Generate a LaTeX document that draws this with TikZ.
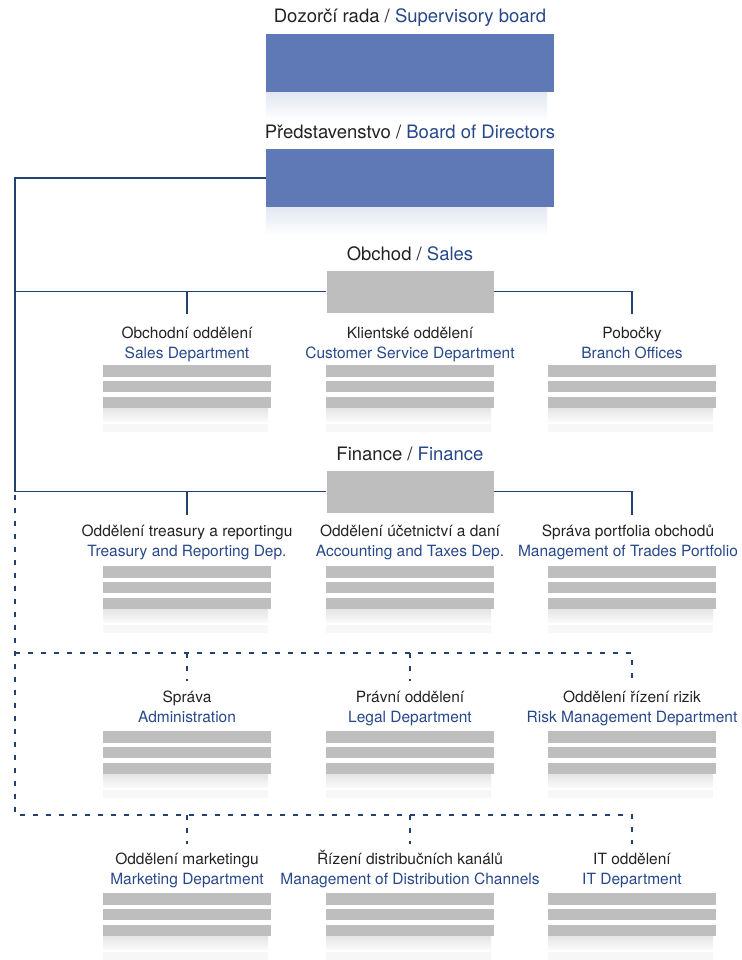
\documentclass[tikz,border=0pt]{standalone}
\usepackage{fontspec}
\setmainfont{TeX Gyre Heros}
\usetikzlibrary{positioning}

\definecolor{boardblue}{RGB}{95,121,182}
\definecolor{namesblue}{RGB}{38,72,138}
\definecolor{linkblue}{RGB}{36,66,112}
\definecolor{unitgray}{RGB}{190,190,190}
\definecolor{inkgray}{RGB}{34,34,34}

\begin{document}
\begin{tikzpicture}[x=1pt,y=-1pt,
   every node/.style={inner sep=0pt,text=inkgray},
   head/.style={font=\fontsize{18.5}{22}\selectfont},
   dept/.style={anchor=base,font=\fontsize{15.5}{19.5}\selectfont,align=center},
   board/.style={fill=boardblue,minimum width=288pt,minimum height=58pt},
   unit/.style={fill=unitgray,minimum width=167pt,minimum height=42pt},
   stripes/.style={anchor=north,minimum width=168pt,minimum height=68pt,
     path picture={
       \coordinate (nw) at (path picture bounding box.north west);
       \fill[unitgray] (nw) rectangle ++(168,12);
       \fill[unitgray] ([yshift=-16pt]nw) rectangle ++(168,11);
       \fill[unitgray] ([yshift=-32pt]nw) rectangle ++(168,11);
       \shade[top color=unitgray!40,bottom color=unitgray!8] ([yshift=-43pt]nw) rectangle ++(165,13);
       \fill[unitgray!12] ([yshift=-59pt]nw) rectangle ++(165,8);
     }},
   link/.style={draw=linkblue,line width=1.4pt},
   dlink/.style={link,dash pattern=on 5pt off 8pt}]
   \useasboundingbox (0,0) rectangle (741,960);

   % boards
   \node[head] (sbT) at (410,18) {Dozorčí rada / \textcolor{namesblue}{Supervisory board}};
   \node[board] (sb) at (410,63.5) {};
   \shade[top color=boardblue!18,bottom color=white] (sb.south west) rectangle ([xshift=-7pt,yshift=-28pt]sb.south east);
   \node[head] (bdT) at (410,132) {Představenstvo / \textcolor{namesblue}{Board of Directors}};
   \node[board] (bd) at (410,178) {};
   \shade[top color=boardblue!18,bottom color=white] (bd.south west) rectangle ([xshift=-7pt,yshift=-28pt]bd.south east);

   % divisions
   \node[head] (salesT) at (410,254) {Obchod / \textcolor{namesblue}{Sales}};
   \node[unit] (sales) at (410,291.5) {};
   \node[head] (finT) at (410,454) {Finance / \textcolor{namesblue}{Finance}};
   \node[unit] (fin) at (410,491.5) {};

   % departments
   \node[dept] (l11) at (187,358) {Obchodní oddělení\\\textcolor{namesblue}{Sales Department}};
   \node[dept] (l12) at (410,358) {Klientské oddělení\\\textcolor{namesblue}{Customer Service Department}};
   \node[dept] (l13) at (632,358) {Pobočky\\\textcolor{namesblue}{Branch Offices}};
   \node[dept] (l21) at (187,556) {Oddělení treasury a reportingu\\\textcolor{namesblue}{Treasury and Reporting Dep.}};
   \node[dept] (l22) at (410,556) {Oddělení účetnictví a daní\\\textcolor{namesblue}{Accounting and Taxes Dep.}};
   \node[dept] (l23) at (628,556) {Správa portfolia obchodů\\\textcolor{namesblue}{Management of Trades Portfolio}};
   \node[dept] (l31) at (187,722) {Správa\\\textcolor{namesblue}{Administration}};
   \node[dept] (l32) at (410,722) {Právní oddělení\\\textcolor{namesblue}{Legal Department}};
   \node[dept] (l33) at (632,722) {Oddělení řízení rizik\\\textcolor{namesblue}{Risk Management Department}};
   \node[dept] (l41) at (187,884) {Oddělení marketingu\\\textcolor{namesblue}{Marketing Department}};
   \node[dept] (l42) at (410,884) {Řízení distribučních kanálů\\\textcolor{namesblue}{Management of Distribution Channels}};
   \node[dept] (l43) at (632,884) {IT oddělení\\\textcolor{namesblue}{IT Department}};

   \node[stripes] (s11) at (187,365) {};
   \node[stripes] (s12) at (410,365) {};
   \node[stripes] (s13) at (632,365) {};
   \node[stripes] (s21) at (187,566) {};
   \node[stripes] (s22) at (410,566) {};
   \node[stripes] (s23) at (632,566) {};
   \node[stripes] (s31) at (187,731) {};
   \node[stripes] (s32) at (410,731) {};
   \node[stripes] (s33) at (632,731) {};
   \node[stripes] (s41) at (187,893) {};
   \node[stripes] (s42) at (410,893) {};
   \node[stripes] (s43) at (632,893) {};

   % connectors
   \coordinate (trunk) at (15,0);
   \coordinate (d1) at (l33 |- 0,653);
   \coordinate (d2) at (l43 |- 0,815);
   \draw[link] (bd.west) -| (trunk |- fin.west) -- (fin.west);
   \draw[link] (trunk |- sales.west) -- (sales.west);
   \draw[link] (l11 |- sales.west) -- ([yshift=44.5pt]l11.base);
   \draw[link] (sales.east) -| ([yshift=44.5pt]l13.base);
   \draw[link] (l21 |- fin.west) -- ([yshift=41.5pt]l21.base);
   \draw[link] (fin.east) -| ([yshift=41.5pt]l23.base -| l13);
   \draw[dlink] ([yshift=-3pt]trunk |- fin.west) -- (trunk |- d2) -- (d2) -- ([yshift=40pt]l43.base);
   \draw[dlink] (trunk |- d1) -- (d1) -- ([yshift=41pt]l33.base);
   \draw[dlink] (l31 |- d1) -- ([yshift=41pt]l31.base);
   \draw[dlink] (l32 |- d1) -- ([yshift=41pt]l32.base);
   \draw[dlink] (l41 |- d2) -- ([yshift=40pt]l41.base);
   \draw[dlink] (l42 |- d2) -- ([yshift=40pt]l42.base);
\end{tikzpicture}
\end{document}
